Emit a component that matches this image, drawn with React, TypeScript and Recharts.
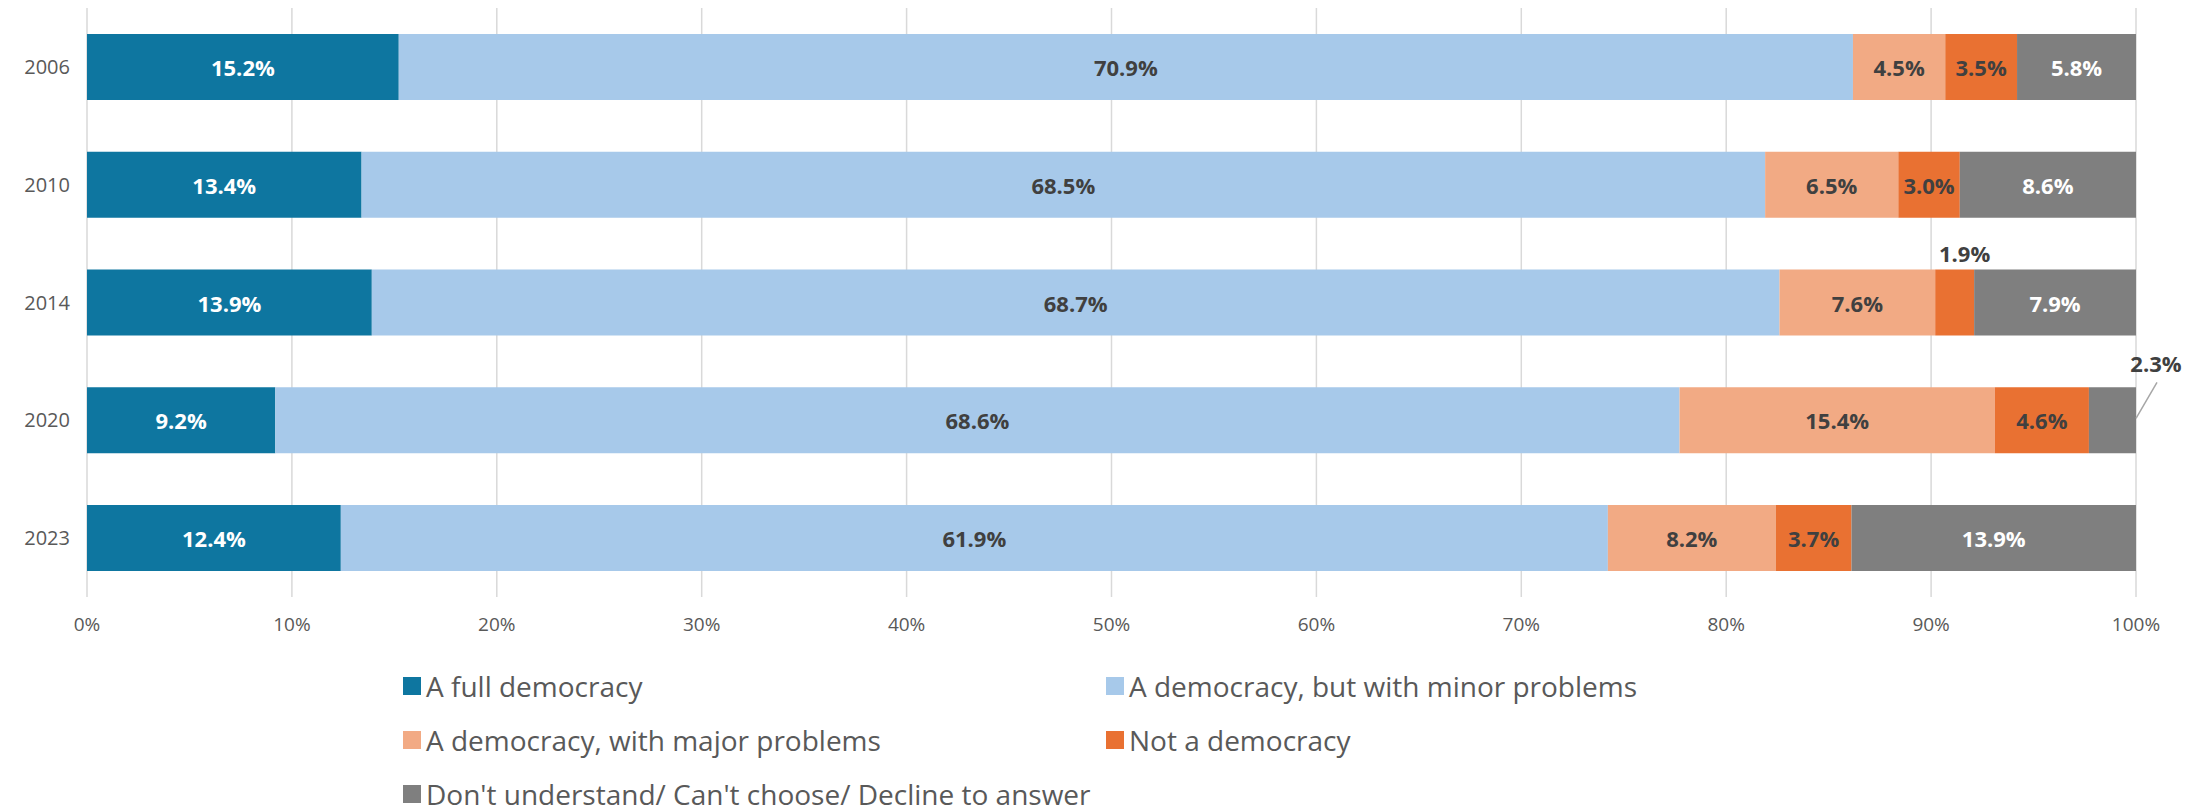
import { Bar, BarChart, CartesianGrid, XAxis, YAxis } from "recharts";

const YEARS = ["2006", "2010", "2014", "2020", "2023"];

const FULL = [15.2, 13.4, 13.9, 9.2, 12.4];
const MINOR = [70.9, 68.5, 68.7, 68.6, 61.9];
const MAJOR = [4.5, 6.5, 7.6, 15.4, 8.2];
const NOT_DEMO = [3.5, 3.0, 1.9, 4.6, 3.7];
const DONT_KNOW = [5.8, 8.6, 7.9, 2.3, 13.9];

const X_TICKS = [0, 10, 20, 30, 40, 50, 60, 70, 80, 90, 100];

const FONT = "'Open Sans', sans-serif";

type Series = {
  key: string;
  name: string;
  values: number[];
  color: string;
  labelColor: string;
};

const SERIES: Series[] = [
  { key: "full", name: "A full democracy", values: FULL, color: "#0e76a0", labelColor: "#ffffff" },
  { key: "minor", name: "A democracy, but with minor problems", values: MINOR, color: "#a7c9ea", labelColor: "#404040" },
  { key: "major", name: "A democracy, with major problems", values: MAJOR, color: "#f2aa84", labelColor: "#404040" },
  { key: "notDemo", name: "Not a democracy", values: NOT_DEMO, color: "#e97132", labelColor: "#404040" },
  { key: "dontKnow", name: "Don't understand/ Can't choose/ Decline to answer", values: DONT_KNOW, color: "#7f7f7f", labelColor: "#ffffff" },
];

const chartData = YEARS.map((year, i) => {
  const row: Record<string, string | number> = { year };
  SERIES.forEach((s) => {
    row[s.key] = s.values[i];
  });
  return row;
});

function makeLabel(s: Series) {
  return (props: any) => {
    const { x, y, width, height, index } = props;
    const v = s.values[index];
    if (v == null) return null;
    const text = `${v.toFixed(1)}%`;
    const cx = Number(x) + Number(width) / 2;
    const cy = Number(y) + Number(height) / 2;
    const year = YEARS[index];

    // small slices get their label outside the bar
    if (s.key === "notDemo" && year === "2014") {
      return (
        <text x={cx + 10} y={Number(y) - 17} textAnchor="middle" dominantBaseline="central"
          fontFamily={FONT} fontSize={22} fontWeight={700} fill="#404040">
          {text}
        </text>
      );
    }
    if (s.key === "dontKnow" && year === "2020") {
      const ex = Number(x) + Number(width);
      return (
        <g>
          <line x1={ex} y1={cy - 2} x2={ex + 21} y2={cy - 38} stroke="#a6a6a6" strokeWidth={1.5} />
          <text x={ex + 20} y={cy - 57} textAnchor="middle" dominantBaseline="central"
            fontFamily={FONT} fontSize={22} fontWeight={700} fill="#404040">
            {text}
          </text>
        </g>
      );
    }
    return (
      <text x={cx} y={cy} textAnchor="middle" dominantBaseline="central"
        fontFamily={FONT} fontSize={22} fontWeight={700} fill={s.labelColor}>
        {text}
      </text>
    );
  };
}

export default function App() {
  return (
    <div style={{ position: "absolute", top: 0, left: 0, width: 2203, height: 809, background: "#fff", fontFamily: FONT }}>
      <BarChart
        width={2203}
        height={660}
        data={chartData}
        layout="vertical"
        stackOffset="expand"
        barCategoryGap="22%"
        margin={{ top: 8, right: 67, bottom: 0, left: 0 }}
      >
        <CartesianGrid horizontal={false} stroke="#d9d9d9" strokeWidth={1.5} />
        <XAxis
          type="number"
          domain={[0, 1]}
          ticks={X_TICKS.map((t) => t / 100)}
          tickFormatter={(v: number) => `${Math.round(v * 100)}%`}
          axisLine={false}
          tickLine={false}
          tickMargin={15}
          height={63}
          tick={{ fontSize: 19, fill: "#595959", fontFamily: FONT }}
          interval={0}
        />
        <YAxis
          type="category"
          dataKey="year"
          width={87}
          axisLine={false}
          tickLine={false}
          tickMargin={11}
          tick={{ fontSize: 20, fill: "#595959", fontFamily: FONT }}
        />
        {SERIES.map((s) => (
          <Bar
            key={s.key}
            dataKey={s.key}
            name={s.name}
            stackId="a"
            fill={s.color}
            isAnimationActive={false}
            label={makeLabel(s)}
          />
        ))}
      </BarChart>
      {SERIES.map((s, i) => {
        const col = i === 4 ? 0 : i % 2;
        const row = Math.floor(i / 2);
        return (
          <div
            key={s.key}
            style={{
              position: "absolute",
              left: col === 0 ? 403 : 1106,
              top: 686 + row * 54 - 20,
              height: 40,
              display: "flex",
              alignItems: "center",
              whiteSpace: "nowrap",
              fontSize: 28,
              color: "#595959",
            }}
          >
            <span style={{ display: "inline-block", width: 18, height: 18, background: s.color, marginRight: 5 }} />
            {s.name}
          </div>
        );
      })}
    </div>
  );
}
